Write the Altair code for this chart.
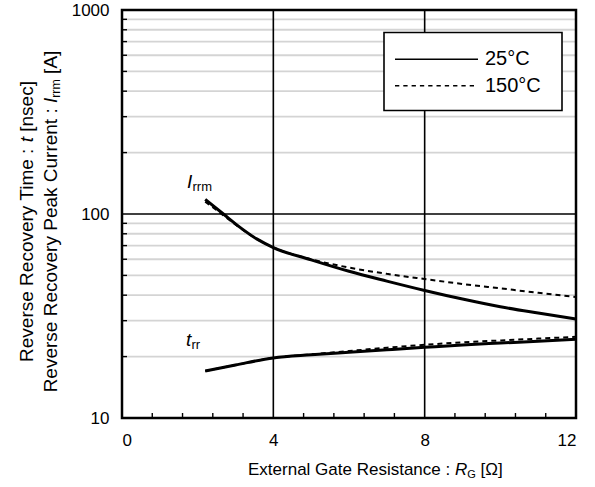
import altair as alt
import pandas as pd

FONT = "Liberation Sans"

# ---------------- data ----------------
series = ["25°C", "150°C"]
curve_names = ["Irrm", "trr"]

irrm_rg = [2.2, 2.68, 3.12, 3.56, 4.0, 5.0, 6.0, 7.0, 8.0, 9.0, 10.0, 11.0, 12.0]
irrm_25 = [118, 100, 86, 75.5, 68.5, 59.6, 52.4, 46.9, 42.2, 38.3, 35.1, 32.7, 30.6]
irrm_150 = [115, 98.5, 85.5, 75.5, 68.5, 60.0, 54.6, 50.9, 48.0, 45.4, 43.2, 41.1, 39.2]

trr_rg = [2.2, 3.0, 4.0, 5.0, 6.0, 7.0, 8.0, 9.0, 10.0, 11.0, 12.0]
trr_25 = [17.0, 18.2, 19.7, 20.4, 21.0, 21.6, 22.2, 22.8, 23.3, 23.8, 24.3]
trr_150 = [17.0, 18.2, 19.7, 20.5, 21.3, 22.1, 22.85, 23.5, 24.0, 24.5, 25.0]

x_ticks = [0, 4, 8, 12]
y_ticks = [10, 100, 1000]
x_major_grid = [4, 8]
y_major_grid = [100]
x_minor = [0.8, 1.6, 2.4, 3.2, 4.8, 5.6, 6.4, 7.2, 8.8, 9.6, 10.4, 11.2]
y_minor = [20, 30, 40, 50, 60, 70, 80, 90, 200, 300, 400, 500, 600, 700, 800, 900]

# ---------------- tables ----------------
rows = []
for x, a, b in zip(irrm_rg, irrm_25, irrm_150):
    rows.append({"rg": x, "v": a, "series": series[0], "curve": curve_names[0]})
    rows.append({"rg": x, "v": b, "series": series[1], "curve": curve_names[0]})
for x, a, b in zip(trr_rg, trr_25, trr_150):
    rows.append({"rg": x, "v": a, "series": series[0], "curve": curve_names[1]})
    rows.append({"rg": x, "v": b, "series": series[1], "curve": curve_names[1]})
df = pd.DataFrame(rows)
one = pd.DataFrame({"k": [0]})

W, H = 454, 408

xs = alt.Scale(domain=[0, 12], nice=False, zero=False)
ys = alt.Scale(type="log", domain=[10, 1000], nice=False)
xaxis = alt.Axis(values=x_ticks, grid=False, ticks=False, tickSize=0, domain=False,
                 labelFontSize=17, labelFont=FONT, labelColor="black",
                 labelPadding=14, title=None)
yaxis = alt.Axis(values=y_ticks, format="d", grid=False, ticks=False, tickSize=0,
                 domain=False, labelFontSize=17, labelFont=FONT, labelColor="black",
                 labelPadding=13, title=None)


def X(f):
    return alt.X(f, type="quantitative", scale=xs, axis=xaxis)


def Y(f):
    return alt.Y(f, type="quantitative", scale=ys, axis=yaxis)


# Arial / Liberation Sans advance widths (per 1000 em)
AW = {" ": 278, "R": 722, "e": 556, "v": 500, "r": 333, "s": 500, "c": 500, "o": 556,
      "y": 500, "T": 611, "i": 222, "m": 833, ":": 278, "t": 278, "[": 278, "]": 278,
      "n": 556, "P": 667, "a": 556, "k": 500, "C": 722, "u": 556, "I": 278, "A": 667,
      "E": 667, "x": 500, "l": 222, "G": 778, "Ω": 768}


def tw(s, size):
    return sum(AW.get(ch, 556) for ch in s) * size / 1000.0


def text(txt, x, y, size, angle=0, align="left", baseline="alphabetic", italic=False):
    kw = dict(font=FONT, fontSize=size, color="black", align=align, baseline=baseline)
    if angle:
        kw["angle"] = angle
    if italic:
        kw["fontStyle"] = "italic"
    return alt.Chart(one).mark_text(**kw).encode(
        x=alt.value(x), y=alt.value(y), text=alt.value(txt))


layers = []

# minor grid
layers.append(alt.Chart(pd.DataFrame({"g": y_minor})).mark_rule(
    color="#d4d4d4", strokeWidth=1.8).encode(y=Y("g")))
# major grid
layers.append(alt.Chart(pd.DataFrame({"g": x_major_grid})).mark_rule(
    color="black", strokeWidth=1.6).encode(x=X("g")))
layers.append(alt.Chart(pd.DataFrame({"g": y_major_grid})).mark_rule(
    color="black", strokeWidth=1.6).encode(y=Y("g")))
# minor ticks
layers.append(alt.Chart(pd.DataFrame({"g": y_minor})).mark_rule(
    color="black", strokeWidth=1.4).encode(y=Y("g"), x=alt.value(0), x2=alt.value(5)))
layers.append(alt.Chart(pd.DataFrame({"g": x_minor})).mark_rule(
    color="black", strokeWidth=1.4).encode(x=X("g"), y=alt.value(H), y2=alt.value(H - 5)))

# curves
layers.append(alt.Chart(df[df["series"] == series[1]]).mark_line(
    color="black", strokeWidth=2, strokeDash=[5, 4], interpolate="monotone").encode(
    x=X("rg"), y=Y("v"), detail="curve:N"))
layers.append(alt.Chart(df[df["series"] == series[0]]).mark_line(
    color="black", strokeWidth=3, interpolate="monotone").encode(
    x=X("rg"), y=Y("v"), detail="curve:N"))

# legend box
layers.append(alt.Chart(one).mark_rect(fill="white", stroke="black", strokeWidth=1.6).encode(
    x=alt.value(262), x2=alt.value(440), y=alt.value(22.5), y2=alt.value(100.5)))
layers.append(alt.Chart(one).mark_rule(color="black", strokeWidth=1.6).encode(
    x=alt.value(273), x2=alt.value(356), y=alt.value(49.3)))
layers.append(alt.Chart(one).mark_rule(color="black", strokeWidth=1.6, strokeDash=[4.3, 4]).encode(
    x=alt.value(273), x2=alt.value(356), y=alt.value(75.7)))
layers.append(text(series[0], 363, 49.3, 20, baseline="middle"))
layers.append(text(series[1], 363, 75.7, 20, baseline="middle"))

# curve annotations
layers.append(text("I", 65, 178, 19, italic=True))
layers.append(text("rrm", 70.5, 181, 13))
layers.append(text("t", 64, 336, 19, italic=True))
layers.append(text("rr", 69.5, 339, 13))

# x axis title: External Gate Resistance : R_G [Ω]
fx = 17
x0 = 126
p1 = "External Gate Resistance :"
xr = x0 + tw(p1, fx) + tw(" ", fx)
xg = xr + tw("R", fx)
xb = xg + tw("G", 11) + tw(" ", fx)
ybase = 465
layers.append(text(p1, x0, ybase, fx))
layers.append(text("R", xr, ybase, fx, italic=True))
layers.append(text("G", xg, ybase + 3, 11))
layers.append(text("[Ω]", xb, ybase, fx))

# y axis title (rotated, reads bottom -> top)
fy = 19
sub = 12.4
cy = 211.5
# line 1: Reverse Recovery Time : t [nsec]
l1a = "Reverse Recovery Time :"
l1_total = tw(l1a, fy) + tw(" ", fy) + tw("t", fy) + tw(" ", fy) + tw("[nsec]", fy)
s1 = cy + l1_total / 2
bx1 = -88.7
pt = s1 - tw(l1a, fy) - tw(" ", fy)
layers.append(text(l1a, bx1, s1, fy, angle=270))
layers.append(text("t", bx1, pt, fy, angle=270, italic=True))
layers.append(text("[nsec]", bx1, pt - tw("t", fy) - tw(" ", fy), fy, angle=270))
# line 2: Reverse Recovery Peak Current : I_rrm [A]
l2a = "Reverse Recovery Peak Current :"
l2_total = (tw(l2a, fy) + tw(" ", fy) + tw("I", fy) + tw("rrm", sub)
            + tw(" ", fy) + tw("[A]", fy))
s2 = cy + l2_total / 2
bx2 = -65.3
pi = s2 - tw(l2a, fy) - tw(" ", fy)
prr = pi - tw("I", fy)
pa = prr - tw("rrm", sub) - tw(" ", fy)
layers.append(text(l2a, bx2, s2, fy, angle=270))
layers.append(text("I", bx2, pi, fy, angle=270, italic=True))
layers.append(text("rrm", bx2 + 3, prr, sub, angle=270))
layers.append(text("[A]", bx2, pa, fy, angle=270))

# plot frame on top
layers.append(alt.Chart(one).mark_rect(fillOpacity=0, stroke="black", strokeWidth=2.5).encode(
    x=alt.value(0), x2=alt.value(W), y=alt.value(0), y2=alt.value(H)))

chart = alt.layer(*layers).properties(
    width=W, height=H,
    autosize=alt.AutoSizeParams(type="none"),
    padding={"left": 122, "top": 10, "right": 19, "bottom": 69},
).configure_view(stroke=None).configure(background="white")

chart.save("out.html", embed_options={"renderer": "svg", "actions": False})
